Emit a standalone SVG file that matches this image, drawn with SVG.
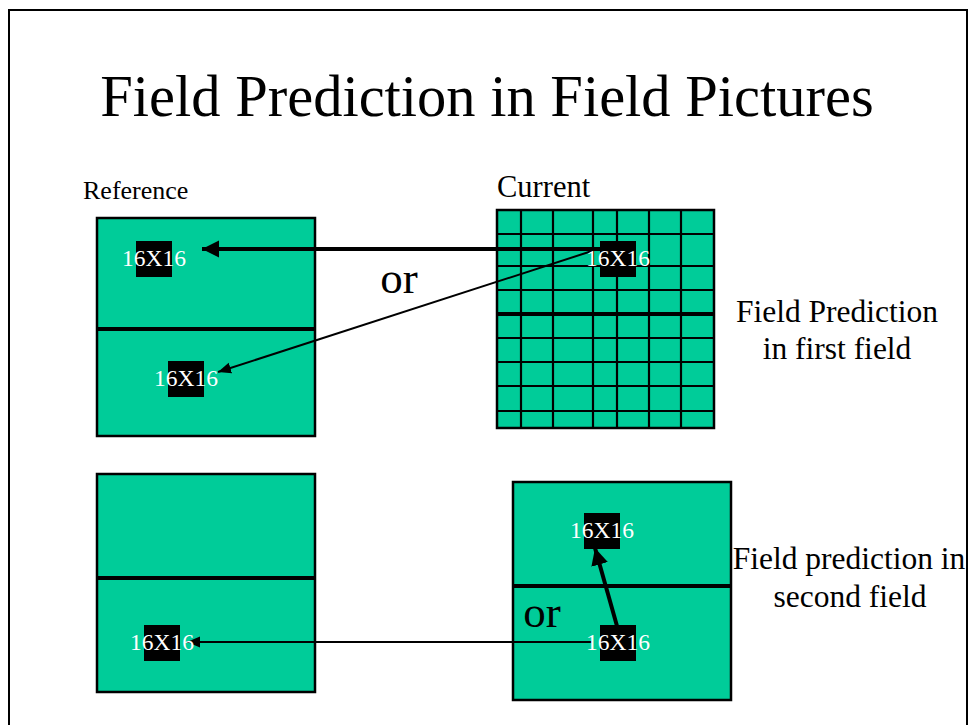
<svg xmlns="http://www.w3.org/2000/svg" width="969" height="725" viewBox="0 0 969 725">
  <style>
    .frame { fill: #ffffff; stroke: #000000; stroke-width: 2; }
    .field { fill: #00cc99; stroke: #000000; stroke-width: 2.5; }
    .divider { stroke: #000000; stroke-width: 4; }
    .grid { stroke: #000000; stroke-width: 2.2; fill: none; }
    .block { fill: #000000; }
    .mb { font-family: "Liberation Serif", "Times New Roman", serif; font-size: 23.5px; fill: #ffffff; text-anchor: middle; }
    .lbl { font-family: "Liberation Serif", "Times New Roman", serif; fill: #000000; }
    .thick { stroke: #000000; stroke-width: 4; fill: none; }
    .thin { stroke: #000000; stroke-width: 2; fill: none; }
  </style>
  <defs>
    <marker id="headBig" markerUnits="userSpaceOnUse" markerWidth="18" markerHeight="18" viewBox="0 0 18 18" refX="17" refY="9" orient="auto">
      <path d="M0,0.5 L17,9 L0,17.5 Z" fill="#000000"/>
    </marker>
    <marker id="headSmall" markerUnits="userSpaceOnUse" markerWidth="14" markerHeight="12" viewBox="0 0 14 12" refX="13" refY="6" orient="auto">
      <path d="M0,0.5 L13,6 L0,11.5 Z" fill="#000000"/>
    </marker>
  </defs>

  <!-- page frame -->
  <rect class="frame" x="9" y="10" width="958" height="730"/>

  <!-- title -->
  <text class="lbl" x="487" y="116" font-size="58.5" text-anchor="middle">Field Prediction in Field Pictures</text>

  <!-- reference picture, first field case -->
  <g id="ref-top">
    <text class="lbl" x="83" y="199" font-size="26">Reference</text>
    <rect class="field" x="97" y="218" width="218" height="218"/>
    <line class="divider" x1="97" y1="329" x2="314" y2="329"/>
    <rect class="block" x="136" y="241" width="36" height="36"/>
    <rect class="block" x="168" y="361" width="36" height="36"/>
  </g>

  <!-- current picture, macroblock grid -->
  <g id="cur-top">
    <text class="lbl" x="497" y="197" font-size="30.5">Current</text>
    <rect class="field" x="497" y="210" width="217" height="218"/>
    <path class="grid" d="M521,210V428 M553,210V428 M593,210V428 M617,210V428 M649,210V428 M681,210V428
             M497,234H714 M497,266H714 M497,290H714 M497,338H714 M497,362H714 M497,386H714 M497,411H714"/>
    <line class="divider" x1="497" y1="314" x2="713" y2="314"/>
    <rect class="block" x="600" y="241" width="36" height="36"/>
  </g>

  <!-- reference picture, second field case -->
  <g id="ref-bottom">
    <rect class="field" x="97" y="474" width="218" height="218"/>
    <line class="divider" x1="97" y1="578" x2="314" y2="578"/>
    <rect class="block" x="144" y="625" width="36" height="36"/>
  </g>

  <!-- current picture, second field case -->
  <g id="cur-bottom">
    <rect class="field" x="513" y="482" width="218" height="218"/>
    <line class="divider" x1="513" y1="586" x2="730" y2="586"/>
    <rect class="block" x="584" y="513" width="36" height="36"/>
    <rect class="block" x="600" y="625" width="36" height="36"/>
  </g>

  <!-- motion vectors -->
  <g id="connectors">
    <line class="thick" x1="600" y1="249" x2="202" y2="249" marker-end="url(#headBig)"/>
    <line class="thin" x1="592" y1="251" x2="218" y2="372" marker-end="url(#headSmall)"/>
    <line class="thin" x1="592" y1="642" x2="187" y2="642" marker-end="url(#headSmall)"/>
    <line class="thick" x1="617" y1="626" x2="595" y2="548" marker-end="url(#headBig)"/>
  </g>

  <!-- block labels -->
  <g id="labels">
    <text class="mb" x="154" y="266">16X16</text>
    <text class="mb" x="186" y="386">16X16</text>
    <text class="mb" x="618" y="266">16X16</text>
    <text class="mb" x="162" y="650">16X16</text>
    <text class="mb" x="602" y="538">16X16</text>
    <text class="mb" x="618" y="650">16X16</text>
  </g>

  <!-- "or" alternatives and side notes -->
  <text class="lbl" x="399" y="293" font-size="45" text-anchor="middle">or</text>
  <text class="lbl" x="542" y="627" font-size="45" text-anchor="middle">or</text>
  <text class="lbl" x="837" y="322" font-size="31.5" text-anchor="middle">Field Prediction</text>
  <text class="lbl" x="837" y="359" font-size="31.5" text-anchor="middle">in first field</text>
  <text class="lbl" x="849" y="569" font-size="31.5" text-anchor="middle">Field prediction in</text>
  <text class="lbl" x="850" y="607" font-size="31.5" text-anchor="middle">second field</text>
</svg>
